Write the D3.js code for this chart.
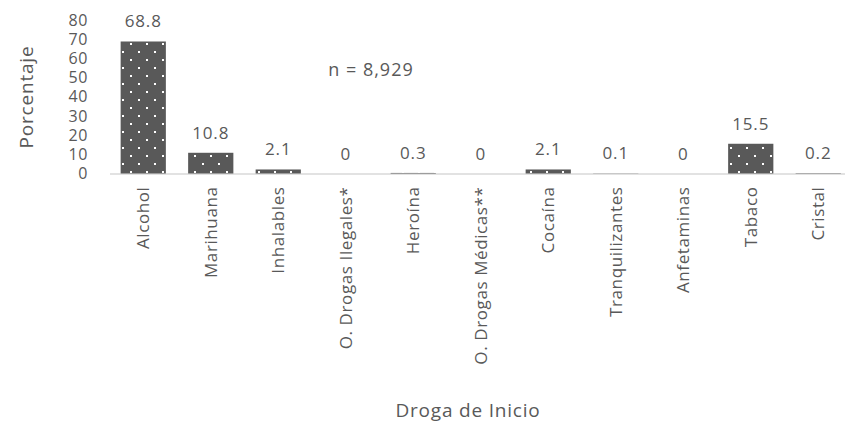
<!DOCTYPE html>
<html><head><meta charset="utf-8">
<script src="https://cdn.jsdelivr.net/npm/d3@7"></script>
<style>body{margin:0;background:#fff}text{font-family:"Open Sans",sans-serif;fill:#595959;font-weight:400}</style>
</head><body><svg id="c" width="845" height="428"></svg>
<script>
const categories = ["Alcohol","Marihuana","Inhalables","O. Drogas Ilegales*","Heroína","O. Drogas Médicas**","Cocaína","Tranquilizantes","Anfetaminas","Tabaco","Cristal"];
const values = [68.8,10.8,2.1,0,0.3,0,2.1,0.1,0,15.5,0.2];
const labels = ["68.8","10.8","2.1","0","0.3","0","2.1","0.1","0","15.5","0.2"];
const yTicks = [0,10,20,30,40,50,60,70,80];

const svg = d3.select("#c");
const defs = svg.append("defs");
const pat = defs.append("pattern").attr("id","dots").attr("patternUnits","userSpaceOnUse")
  .attr("width",16).attr("height",16).attr("x",119).attr("y",0);
pat.append("rect").attr("width",16).attr("height",16).attr("fill","#595959");
pat.append("rect").attr("x",3).attr("y",3).attr("width",2).attr("height",2).attr("fill","#fff");
pat.append("rect").attr("x",11).attr("y",11).attr("width",2).attr("height",2).attr("fill","#fff");

const x = d3.scaleBand().domain(categories).range([109.5, 852]).paddingInner(0.33).paddingOuter(0.165);
const y = d3.scaleLinear().domain([0,80]).range([173.5, 20]);

const xa = svg.append("g").attr("transform","translate(0,173.5)").call(d3.axisBottom(x).tickSize(0).tickPadding(0));
xa.select(".domain").attr("stroke","#d9d9d9").attr("stroke-width",1.5);
xa.selectAll("text").attr("transform","rotate(-90)").attr("text-anchor","end")
  .attr("dx","-13px").attr("dy","0.35em").attr("x",0).attr("y",0)
  .style("font-size","17px").style("letter-spacing","0.6px").style("fill","#595959").style("font-family","Open Sans");

const ya = svg.append("g").attr("transform","translate(94,0)").call(d3.axisLeft(y).tickValues(yTicks).tickSize(0).tickPadding(6));
ya.select(".domain").remove();
ya.selectAll("text").style("font-size","16px").style("letter-spacing","0.6px").style("fill","#595959").style("font-family","Open Sans");

svg.selectAll("rect.bar").data(values).join("rect").attr("class","bar")
  .attr("x",(d,i)=>x(categories[i])).attr("width",x.bandwidth())
  .attr("y",d=>y(d)).attr("height",d=>y(0)-y(d)).attr("fill","url(#dots)");

svg.selectAll("text.lab").data(values).join("text").attr("class","lab")
  .attr("x",(d,i)=>x(categories[i])+x.bandwidth()/2).attr("y",d=>y(d)-14)
  .attr("text-anchor","middle").style("font-size","17px").style("letter-spacing","0.8px").text((d,i)=>labels[i]);

svg.append("text").attr("x",371).attr("y",76).attr("text-anchor","middle").style("font-size","18px").style("letter-spacing","1px").text("n = 8,929");
svg.append("text").attr("transform","translate(33,97) rotate(-90)").attr("text-anchor","middle").style("font-size","19px").style("letter-spacing","0.8px").text("Porcentaje");
svg.append("text").attr("x",468).attr("y",417).attr("text-anchor","middle").style("font-size","19px").style("letter-spacing","0.8px").text("Droga de Inicio");
</script></body></html>
